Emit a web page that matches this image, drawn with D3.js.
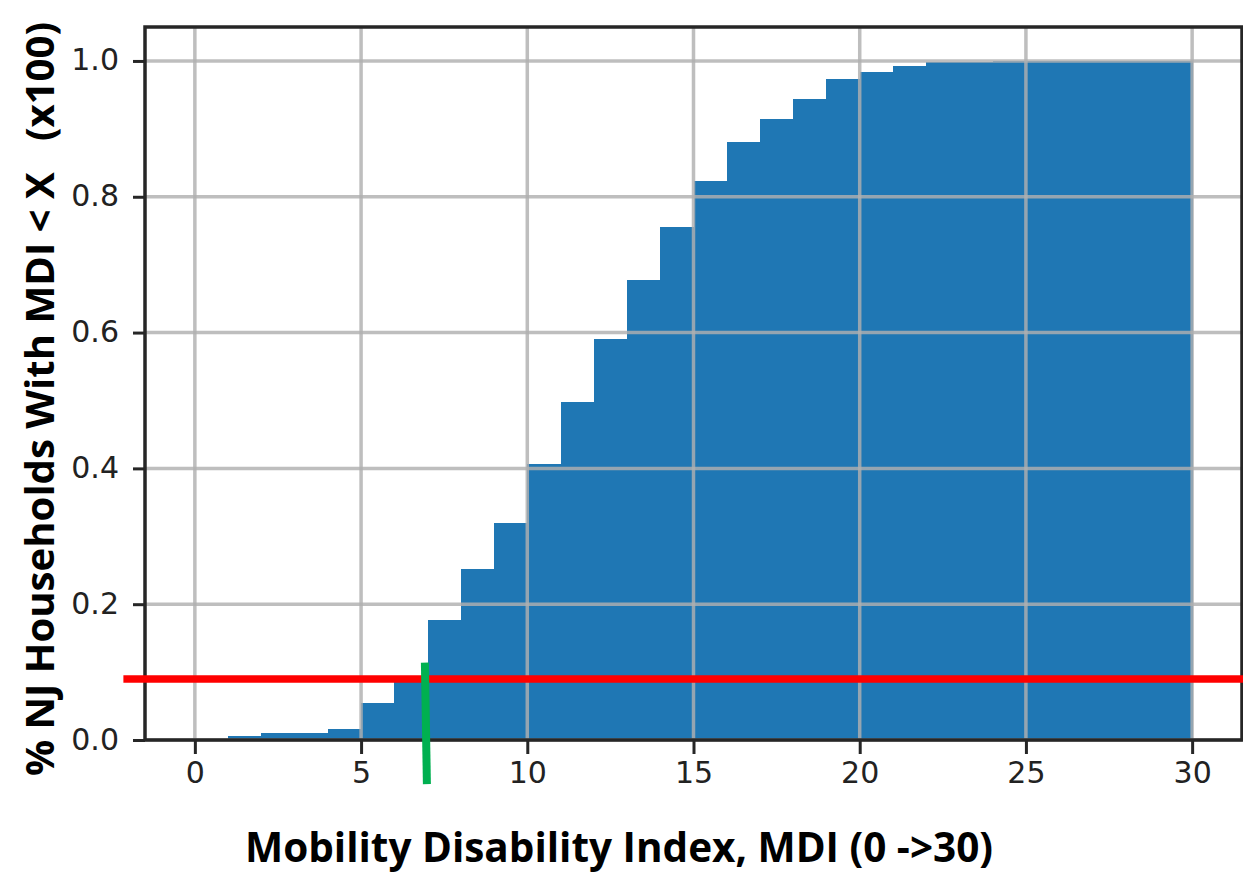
<!DOCTYPE html>
<html>
<head>
<meta charset="utf-8">
<script src="https://cdn.jsdelivr.net/npm/d3@7"></script>
<style>
  html, body { margin: 0; padding: 0; background: #fff; }
  svg { display: block; }
</style>
</head>
<body>
<svg id="chart" width="1243" height="879"></svg>
<script>
// bin edges 0..30 (width 1), cumulative share of households with MDI < X
const binStarts = d3.range(0, 30);
const cumShare = [0.000, 0.006, 0.010, 0.010, 0.016, 0.055, 0.088, 0.176, 0.252, 0.320,
                  0.407, 0.498, 0.591, 0.678, 0.755, 0.823, 0.881, 0.914, 0.944, 0.973,
                  0.983, 0.993, 0.998, 0.999, 1.000, 1.000, 1.000, 1.000, 1.000, 1.000];
const xTicks = [0, 5, 10, 15, 20, 25, 30];
const yTicks = [0.0, 0.2, 0.4, 0.6, 0.8, 1.0];

// hand drawn markers on the figure (data units)
const redLine = { y: 0.09, x0: -2.15, x1: 32 };
const greenLine = [[6.92, 0.114], [6.98, -0.065]];

const xLabel = "Mobility Disability Index, MDI (0 ->30)";
const yLabel = "% NJ Households With MDI < X   (x100)";

const svg = d3.select("#chart");
const plotLeft = 145, plotRight = 1242, plotTop = 27, plotBottom = 740;

const x = d3.scaleLinear().domain([-1.5, 31.5]).range([plotLeft, plotRight]);
const y = d3.scaleLinear().domain([0, 1.05]).range([plotBottom, plotTop]);

// bars
svg.append("g")
  .attr("shape-rendering", "crispEdges")
  .selectAll("rect")
  .data(binStarts)
  .join("rect")
  .attr("x", d => x(d))
  .attr("width", d => x(d + 1) - x(d) + 1)
  .attr("y", (d, i) => y(cumShare[i]))
  .attr("height", (d, i) => y(0) - y(cumShare[i]))
  .attr("fill", "#1f77b4");

// grid on top of the bars
const grid = svg.append("g").attr("stroke", "rgba(176,176,176,0.82)").attr("stroke-width", 3.5);
grid.selectAll(".gx").data(xTicks).join("line")
  .attr("x1", d => x(d)).attr("x2", d => x(d))
  .attr("y1", plotTop).attr("y2", plotBottom);
grid.selectAll(".gy").data(yTicks).join("line")
  .attr("x1", plotLeft).attr("x2", plotRight)
  .attr("y1", d => y(d)).attr("y2", d => y(d));

// axes
const xAxis = svg.append("g")
  .attr("transform", `translate(0,${plotBottom})`)
  .call(d3.axisBottom(x).tickValues(xTicks).tickSize(14).tickPadding(8).tickFormat(d3.format("d")));
const yAxis = svg.append("g")
  .attr("transform", `translate(${plotLeft},0)`)
  .call(d3.axisLeft(y).tickValues(yTicks).tickSize(12).tickPadding(14).tickFormat(d3.format(".1f")));

[xAxis, yAxis].forEach(a => {
  a.select(".domain").remove();
  a.selectAll(".tick line").attr("stroke", "#262626").attr("stroke-width", 3);
  a.selectAll(".tick text")
    .attr("fill", "#222")
    .style("font-family", "DejaVu Sans")
    .style("font-size", "30px");
});
yAxis.selectAll(".tick text").attr("dy", "0.30em");

// frame
svg.append("rect")
  .attr("x", plotLeft).attr("y", plotTop)
  .attr("width", plotRight - plotLeft).attr("height", plotBottom - plotTop)
  .attr("fill", "none").attr("stroke", "#262626").attr("stroke-width", 3.5);

// markers
svg.append("line")
  .attr("x1", x(redLine.x0)).attr("x2", x(redLine.x1))
  .attr("y1", y(redLine.y)).attr("y2", y(redLine.y))
  .attr("stroke", "#ff0000").attr("stroke-width", 7.5);

svg.append("path")
  .attr("d", d3.line().x(d => x(d[0])).y(d => y(d[1]))(greenLine))
  .attr("stroke", "#00b050").attr("stroke-width", 8).attr("fill", "none");

// axis titles
svg.append("text")
  .attr("x", 245).attr("y", 862)
  .attr("textLength", 748).attr("lengthAdjust", "spacingAndGlyphs")
  .style("font-family", "Open Sans").style("font-weight", "bold").style("font-size", "42px")
  .attr("fill", "#000")
  .text(xLabel);

svg.append("text")
  .attr("transform", "translate(54,776) rotate(-90)")
  .attr("x", 0).attr("y", 0)
  .attr("textLength", 754).attr("lengthAdjust", "spacingAndGlyphs")
  .style("white-space", "pre")
  .style("font-family", "Open Sans").style("font-weight", "bold").style("font-size", "40px")
  .attr("fill", "#000")
  .text(yLabel);
</script>
</body>
</html>
